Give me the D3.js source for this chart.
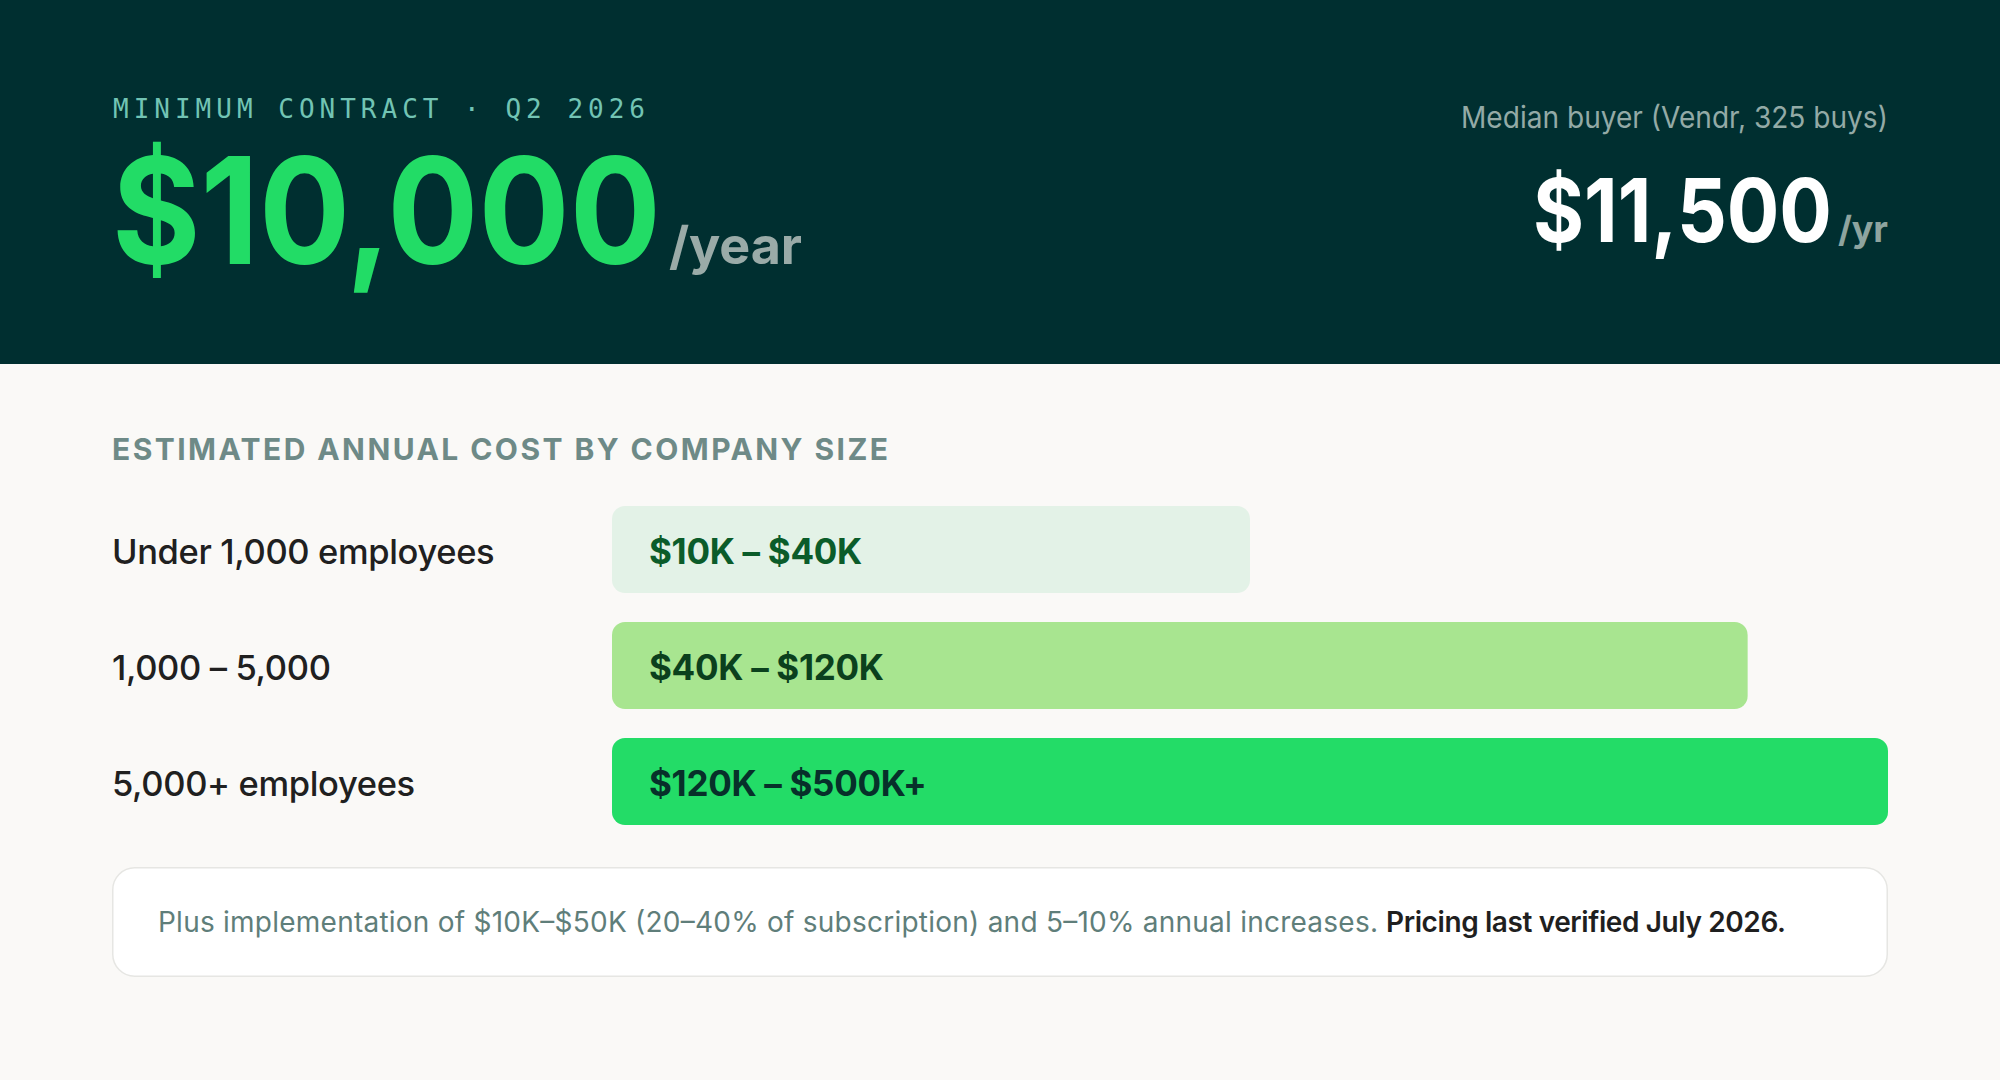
<!DOCTYPE html>
<html>
<head>
<meta charset="utf-8">
<script src="https://cdn.jsdelivr.net/npm/d3@7"></script>
<style>
  html, body { margin: 0; padding: 0; background: #faf9f7; }
  svg { display: block; }
</style>
</head>
<body>
<div id="chart"></div>
<script>
// values
const kicker = 'MINIMUM CONTRACT · Q2 2026'
const minContract = 10000
const medianLabel = 'Median buyer (Vendr, 325 buys)'
const medianBuyer = 11500
const sectionTitle = 'ESTIMATED ANNUAL COST BY COMPANY SIZE'
const categories = ['Under 1,000 employees', '1,000 – 5,000', '5,000+ employees']
const rangeLabels = ['$10K – $40K', '$40K – $120K', '$120K – $500K+']
const barShare = [50, 89, 100]   // bar length, % of the widest bar
const noteText = 'Plus implementation of $10K–$50K (20–40% of subscription) and 5–10% annual increases.'
const noteBold = 'Pricing last verified July 2026.'

const barFill = ['#e3f2e7', '#a8e590', '#23dc67']
const barInk = ['#0b5c2a', '#0b401d', '#07302a']

const W = 2000, H = 1080
const sans = 'Inter, "Noto Sans", sans-serif'
const fmt = d3.format('$,')

const svg = d3.select('#chart').append('svg')
  .attr('width', W).attr('height', H)
  .attr('viewBox', [0, 0, W, H])

// the reference face is narrower than Inter, so squeeze big figures sideways
function squeeze(text, x, y, width) {
  const w = text.node().getComputedTextLength()
  text.attr('x', 0).attr('y', 0)
    .attr('transform', `translate(${x},${y}) scale(${width / w},1)`)
}

svg.append('rect').attr('width', W).attr('height', H).attr('fill', '#faf9f7')

// header band
svg.append('rect').attr('width', W).attr('height', 364).attr('fill', '#002f30')

svg.append('text')
  .attr('x', 113).attr('y', 118)
  .attr('font-family', '"DejaVu Sans Mono", monospace')
  .attr('font-size', 26)
  .attr('textLength', 532).attr('lengthAdjust', 'spacing')
  .attr('fill', '#72c4b4')
  .text(kicker)

const big = svg.append('text')
  .attr('font-family', sans).attr('font-weight', 700)
  .attr('font-size', 148)
  .attr('fill', '#22dc66')
  .text(fmt(minContract))
squeeze(big, 112, 264, 549)

svg.append('text')
  .attr('x', 669).attr('y', 264)
  .attr('font-family', sans).attr('font-weight', 700)
  .attr('font-size', 52)
  .attr('textLength', 133).attr('lengthAdjust', 'spacing')
  .attr('fill', '#9aaba8')
  .text('/year')

const med = svg.append('text')
  .attr('font-family', sans).attr('font-weight', 400)
  .attr('font-size', 30)
  .attr('fill', '#93aaa6')
  .text(medianLabel)
squeeze(med, 1461, 128, 427)

const medVal = svg.append('text')
  .attr('font-family', sans).attr('font-weight', 700)
  .attr('font-size', 88)
  .attr('fill', '#ffffff')
  .text(fmt(medianBuyer))
squeeze(medVal, 1533, 242, 299)

svg.append('text')
  .attr('x', 1838).attr('y', 242)
  .attr('font-family', sans).attr('font-weight', 700)
  .attr('font-size', 36)
  .attr('textLength', 50).attr('lengthAdjust', 'spacing')
  .attr('fill', '#8ea49f')
  .text('/yr')

// section title
svg.append('text')
  .attr('x', 112).attr('y', 460)
  .attr('font-family', sans).attr('font-weight', 700)
  .attr('font-size', 30)
  .attr('textLength', 776).attr('lengthAdjust', 'spacing')
  .attr('fill', '#6e8a87')
  .text(sectionTitle)

// bars
const x = d3.scaleLinear().domain([0, 100]).range([612, 1888])
const y = d3.scaleBand().domain(categories).range([506, 825]).paddingInner(0.25)

const rows = svg.append('g').selectAll('g')
  .data(categories)
  .join('g')
  .attr('transform', d => `translate(0,${y(d)})`)

rows.append('rect')
  .attr('x', x(0))
  .attr('width', (d, i) => x(barShare[i]) - x(0))
  .attr('height', y.bandwidth())
  .attr('rx', 13)
  .attr('fill', (d, i) => barFill[i])

rows.append('text')
  .attr('x', 112)
  .attr('y', y.bandwidth() / 2 + 14)
  .attr('font-family', sans).attr('font-weight', 500)
  .attr('font-size', 34.5)
  .attr('letter-spacing', -0.35)
  .attr('fill', '#202020')
  .text(d => d)

rows.append('text')
  .attr('x', x(0) + 37)
  .attr('y', y.bandwidth() / 2 + 14)
  .attr('font-family', sans).attr('font-weight', 700)
  .attr('font-size', 35)
  .attr('letter-spacing', -0.3)
  .attr('fill', (d, i) => barInk[i])
  .text((d, i) => rangeLabels[i])

// footnote card
svg.append('rect')
  .attr('x', 112.75).attr('y', 867.75)
  .attr('width', 1774.5).attr('height', 108.5)
  .attr('rx', 22)
  .attr('fill', '#ffffff')
  .attr('stroke', '#e6e6e3').attr('stroke-width', 1.5)

svg.append('text')
  .attr('x', 158).attr('y', 932)
  .attr('font-family', sans).attr('font-weight', 400)
  .attr('font-size', 28)
  .attr('textLength', 1220).attr('lengthAdjust', 'spacing')
  .attr('fill', '#5f7e7a')
  .text(noteText)

svg.append('text')
  .attr('x', 1386).attr('y', 932)
  .attr('font-family', sans).attr('font-weight', 600)
  .attr('font-size', 28)
  .attr('textLength', 400).attr('lengthAdjust', 'spacing')
  .attr('fill', '#1f1f1f')
  .text(noteBold)
</script>
</body>
</html>
